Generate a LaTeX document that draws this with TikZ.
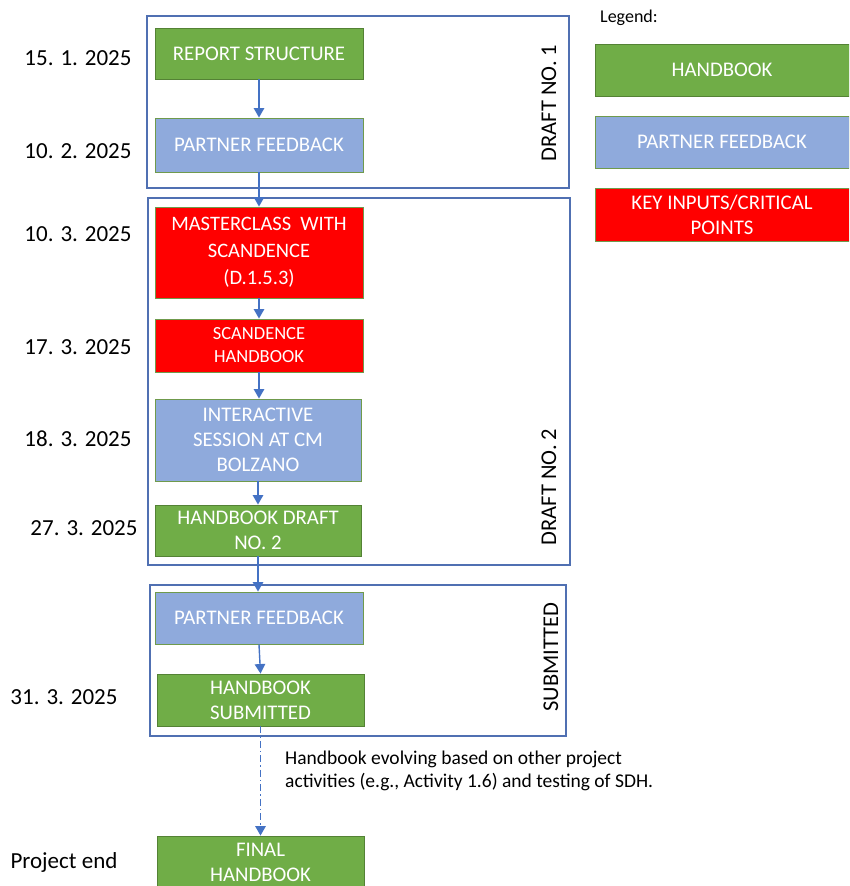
\documentclass[tikz,border=0pt]{standalone}
\usepackage{fontspec}
\setmainfont{Carlito}
\usetikzlibrary{arrows.meta}
\definecolor{hbgreen}{HTML}{70AD47}
\definecolor{hbgreenb}{HTML}{548235}
\definecolor{pfblue}{HTML}{8FAADC}
\definecolor{kired}{HTML}{FF0000}
\definecolor{boxb}{HTML}{6F9A4C}
\definecolor{framec}{HTML}{5070B2}
\definecolor{arrowc}{HTML}{4472C4}
\begin{document}
\begin{tikzpicture}[x=1pt,y=-1pt,
  box/.style={draw=boxb, line width=0.9pt, text=white, align=center, inner sep=0pt,
    font=\fontsize{20.8}{25}\selectfont},
  hbbox/.style={box, fill=hbgreen, draw=hbgreenb},
  pfbox/.style={box, fill=pfblue},
  kibox/.style={box, fill=kired},
  frame/.style={draw=framec, line width=1.2pt, fill=white, inner sep=0pt},
  conn/.style={draw=arrowc, line width=1.4pt, -{Triangle[width=10.5pt,length=9.5pt]}},
  datelbl/.style={font=\fontsize{23}{28}\selectfont},
  vlbl/.style={font=\fontsize{22.5}{26}\selectfont, rotate=90},
]
\clip (0,0) rectangle (849,886);
\fill[white] (0,0) rectangle (849,886);

% frames
\node[frame, minimum width=422pt, minimum height=172pt] (f1) at (358,102) {};
\node[frame, minimum width=422pt, minimum height=367pt] (f2) at (359,381.5) {};
\node[frame, minimum width=416pt, minimum height=151pt] (f3) at (358,660.5) {};

\node[vlbl] (v1) at (549,103) {DRAFT NO. 1};
\node[vlbl] (v2) at (549,487) {DRAFT NO. 2};
\node[vlbl] (v3) at (551,657) {SUBMITTED};

% boxes
\node[hbbox, minimum width=208pt, minimum height=51pt] (rs) at (259,53.5) {REPORT STRUCTURE};
\node[pfbox, minimum width=208pt, minimum height=54pt] (pf1) at (259,145) {PARTNER FEEDBACK};
\node[kibox, minimum width=208pt, minimum height=91pt, font=\fontsize{20.5}{27}\selectfont] (ms) at (259,252.5) {MASTERCLASS\ \ WITH\\SCANDENCE\\(D.1.5.3)};
\node[kibox, minimum width=208pt, minimum height=53pt, font=\fontsize{18.5}{23}\selectfont] (sh) at (259,345.5) {SCANDENCE\\HANDBOOK};
\node[pfbox, minimum width=206pt, minimum height=82pt] (ia) at (258,440) {INTERACTIVE\\SESSION\ AT CM\\BOLZANO};
\node[hbbox, minimum width=206pt, minimum height=51pt] (hd) at (258,530.5) {HANDBOOK DRAFT\\NO. 2};
\node[pfbox, minimum width=208pt, minimum height=52pt] (pf2) at (259,618) {PARTNER FEEDBACK};
\node[hbbox, minimum width=207pt, minimum height=52pt] (hs) at (260.5,700) {HANDBOOK\\SUBMITTED};
\node[hbbox, minimum width=207pt, minimum height=52pt] (fh) at (260.5,862) {FINAL\\HANDBOOK};

% dates
\node[datelbl] (d1) at (78,58) {15. 1. 2025};
\node[datelbl] (d2) at (78,151) {10. 2. 2025};
\node[datelbl] (d3) at (78,234) {10. 3. 2025};
\node[datelbl] (d4) at (78,347) {17. 3. 2025};
\node[datelbl] (d5) at (78,439) {18. 3. 2025};
\node[datelbl] (d6) at (84,528) {27. 3. 2025};
\node[datelbl] (d7) at (64,697) {31. 3. 2025};
\node[datelbl] (d8) at (64,862) {Project end};

% connectors
\draw[conn] (rs.south) -- (rs.south |- pf1.north);
\draw[conn] (pf1.south) -- (pf1.south |- ms.north);
\draw[conn] (ms.south) -- (ms.south |- sh.north);
\draw[conn] (sh.south) -- (sh.south |- ia.north);
\draw[conn] (ia.south) -- (ia.south |- hd.north);
\draw[conn] (hd.south) -- (hd.south |- pf2.north);
\draw[conn] (pf2.south) -- (hs.north);
\draw[conn, dash pattern=on 7pt off 3pt on 1.5pt off 3pt] (hs.south) -- (fh.north);

% annotation
\node[anchor=north west, align=left, inner sep=0pt, font=\fontsize{19.5}{23}\selectfont] (note) at (285,751)
  {Handbook evolving based on other project\\activities (e.g., Activity 1.6) and testing of SDH.};

% legend
\node[anchor=west, inner sep=0pt, font=\fontsize{18}{20}\selectfont] (lg) at (600,18) {Legend:};
\node[hbbox, minimum width=254pt, minimum height=52pt] (l1) at (722,70) {HANDBOOK};
\node[pfbox, minimum width=254pt, minimum height=52pt] (l2) at (722,142) {PARTNER FEEDBACK};
\node[kibox, minimum width=254pt, minimum height=53pt] (l3) at (722,214.5) {KEY INPUTS/CRITICAL\\POINTS};
\end{tikzpicture}
\end{document}
